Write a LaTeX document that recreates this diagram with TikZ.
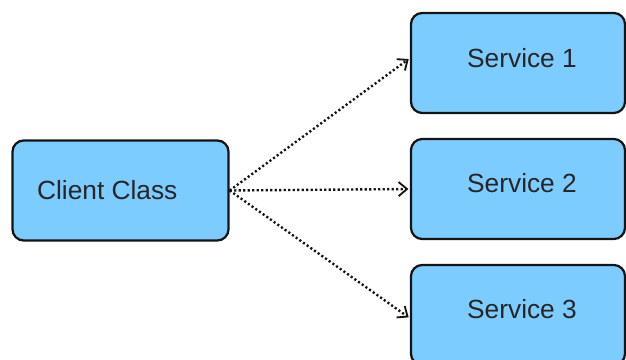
\documentclass[tikz,border=0pt]{standalone}
\usepackage{fontspec}
\setmainfont{Liberation Sans}
\usetikzlibrary{arrows.meta}
\definecolor{box_blue}{RGB}{124,204,255}
\definecolor{line_dark}{RGB}{20,20,20}

\begin{document}
\begin{tikzpicture}[x=0.025cm,y=0.025cm,semithick,>={Straight Barb[length=6pt,width=10pt,line width=1.3pt]}]
    \tikzstyle{box}=[draw=line_dark, line width=1.6pt, rounded corners=8pt, fill=box_blue, minimum width=5.35cm, minimum height=2.5cm, inner sep=0pt]
    \tikzstyle{lbl}=[text=black!85, font=\fontsize{18.7}{22}\selectfont, inner sep=0pt]
    \tikzstyle{link}=[->, line_dark, line width=1.7pt, dash pattern=on 1.5pt off 1.7pt, shorten >=1pt]

    \useasboundingbox (0,0) rectangle (626,360);

    \node[box, minimum width=5.4cm] (client) at (120.5,169.5) {};
    \node[box] (s1) at (518,297) {};
    \node[box] (s2) at (518,171) {};
    \node[box] (s3) at (518,45)  {};

    \node[lbl] (clienttxt) at ([xshift=-0.33cm]client.center) {Client Class};
    \node[lbl] (s1txt) at ([xshift=0.1cm,yshift=0.12cm]s1.center) {Service 1};
    \node[lbl] (s2txt) at ([xshift=0.1cm,yshift=0.15cm]s2.center) {Service 2};
    \node[lbl] (s3txt) at ([xshift=0.1cm,yshift=0.15cm]s3.center) {Service 3};

    \path
     (client.east) edge[link] ([yshift=0.12cm]s1.west)
     (client.east) edge[link] (s2.west)
     (client.east) edge[link] ([yshift=-0.08cm]s3.west)
     ;
\end{tikzpicture}
\end{document}
